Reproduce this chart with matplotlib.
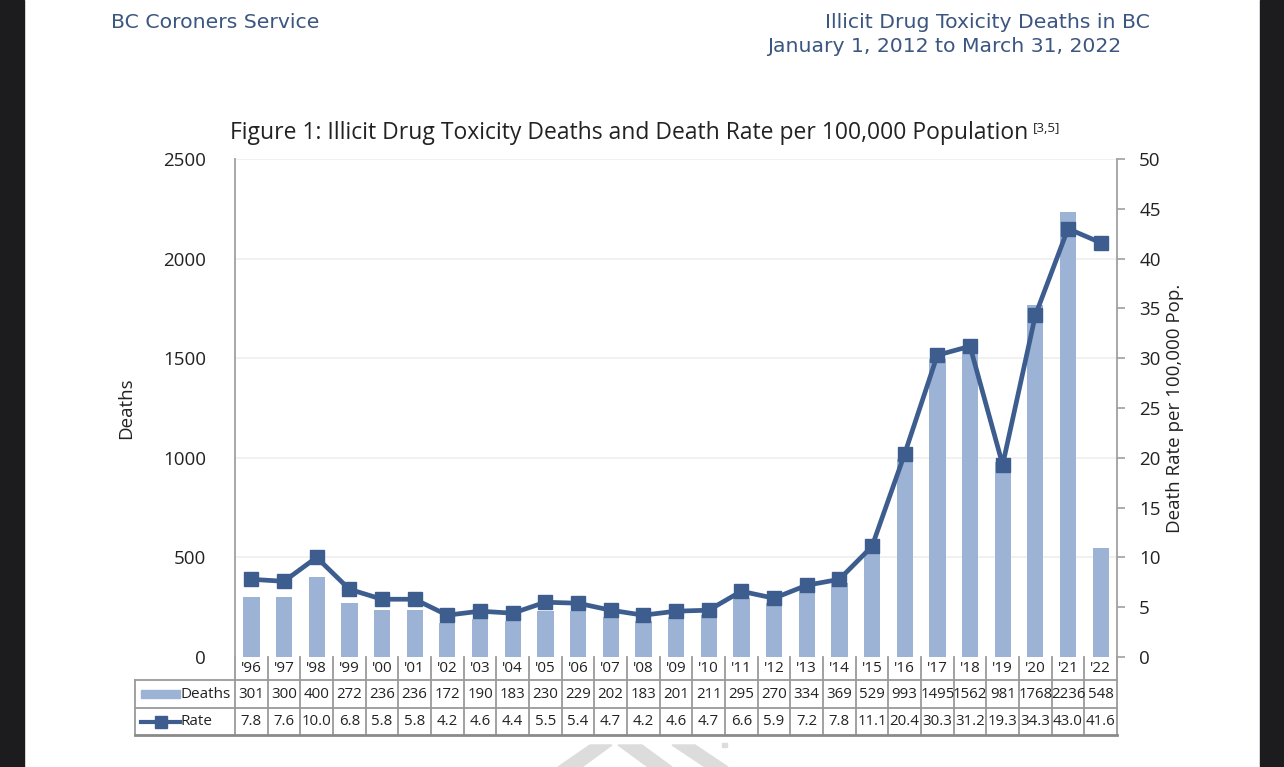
import matplotlib
matplotlib.use("Agg")
import matplotlib.pyplot as plt
from matplotlib.lines import Line2D
from matplotlib.patches import Rectangle, Polygon
import matplotlib.transforms as mtransforms

years = ["'96", "'97", "'98", "'99", "'00", "'01", "'02", "'03", "'04", "'05", "'06",
         "'07", "'08", "'09", "'10", "'11", "'12", "'13", "'14", "'15", "'16", "'17",
         "'18", "'19", "'20", "'21", "'22"]
deaths = [301, 300, 400, 272, 236, 236, 172, 190, 183, 230, 229, 202, 183, 201, 211,
          295, 270, 334, 369, 529, 993, 1495, 1562, 981, 1768, 2236, 548]
rates = [7.8, 7.6, 10.0, 6.8, 5.8, 5.8, 4.2, 4.6, 4.4, 5.5, 5.4, 4.7, 4.2, 4.6, 4.7,
         6.6, 5.9, 7.2, 7.8, 11.1, 20.4, 30.3, 31.2, 19.3, 34.3, 43.0, 41.6]
deaths_ticks = [0, 500, 1000, 1500, 2000, 2500]
rate_ticks = [0, 5, 10, 15, 20, 25, 30, 35, 40, 45, 50]

BAR = "#9cb3d5"
LINE = "#3d5d8f"
HEAD = "#3b5680"
TXT = "#222222"
FONT = ["Open Sans", "DejaVu Sans"]

W, H = 1284, 767
fig = plt.figure(figsize=(W / 100, H / 100), dpi=100)
fig.patch.set_facecolor("white")

# dark side borders
fig.add_artist(Rectangle((0, 0), 24 / W, 1, transform=fig.transFigure, color="#1c1c1e", zorder=0))
fig.add_artist(Rectangle((1260 / W, 0), 24 / W, 1, transform=fig.transFigure, color="#1c1c1e", zorder=0))

# watermark fragments
for pts in [[(558, 767), (582, 767), (612, 745), (590, 745)],
            [(618, 745), (642, 745), (672, 767), (648, 767)],
            [(672, 745), (695, 745), (728, 767), (705, 767)],
            [(722, 743), (727, 743), (727, 747), (722, 747)]]:
    fig.add_artist(Polygon([(x / W, 1 - y / H) for x, y in pts], closed=True,
                           transform=fig.transFigure, color="#dcdcdc", zorder=0))

# header
fig.text(111 / W, 1 - 23 / H, "BC Coroners Service", color=HEAD, fontsize=14.7,
         family="DejaVu Sans", ha="left", va="center")
fig.text(1150 / W, 1 - 23 / H, "Illicit Drug Toxicity Deaths in BC", color=HEAD, fontsize=14.7,
         family="DejaVu Sans", ha="right", va="center")
fig.text(1121 / W, 1 - 47 / H, "January 1, 2012 to March 31, 2022", color=HEAD, fontsize=14.7,
         family="DejaVu Sans", ha="right", va="center")

L, R, T, B = 235, 1117, 159, 657
ax = fig.add_axes([L / W, 1 - B / H, (R - L) / W, (B - T) / H])
ax2 = ax.twinx()

x = list(range(len(years)))
ax.bar(x, deaths, width=0.5, color=BAR, zorder=2)
ax.set_xlim(-0.5, len(years) - 0.5)
ax.set_ylim(0, 2500)
ax.set_yticks(deaths_ticks)
ax.set_yticklabels([str(v) for v in deaths_ticks], family=FONT, fontsize=13.5, color=TXT)
ax.tick_params(axis="y", length=0, pad=21)
ax.set_xticks([])
for v in deaths_ticks[1:]:
    ax.axhline(v, color="#efefef", lw=1.2, zorder=1)
for s in ["top", "right", "bottom"]:
    ax.spines[s].set_visible(False)
ax.spines["left"].set_color("#a0a0a0")
ax.spines["left"].set_linewidth(1.3)
ax.set_ylabel("Deaths", family=FONT, fontsize=13.5, color=TXT, labelpad=20)

ax2.plot(x, rates, color=LINE, lw=3.4, marker="s", markersize=10.5, zorder=3)
ax2.set_ylim(0, 50)
ax2.set_yticks(rate_ticks)
ax2.set_yticklabels([str(v) for v in rate_ticks], family=FONT, fontsize=13.5, color=TXT)
ax2.tick_params(axis="y", length=6, width=1.2, color="#a0a0a0", pad=10)
for s in ["top", "left", "bottom"]:
    ax2.spines[s].set_visible(False)
ax2.spines["right"].set_color("#a0a0a0")
ax2.spines["right"].set_linewidth(1.3)
ax2.set_ylabel("Death Rate per 100,000 Pop.", family=FONT, fontsize=13.5, color=TXT,
               rotation=90, labelpad=4)

# title
fig.text(230 / W, 1 - 133 / H,
         "Figure 1: Illicit Drug Toxicity Deaths and Death Rate per 100,000 Population",
         family=FONT, fontsize=16.5, color=TXT, ha="left", va="center")
fig.text(1033 / W, 1 - 128 / H, "[3,5]", family=FONT, fontsize=9.5, color=TXT,
         ha="left", va="center")

# data table (drawn in blended data/axes coordinates)
tr = mtransforms.blended_transform_factory(ax.transData, ax.transAxes)
tra = ax.transAxes
ph = B - T
def yy(py):
    return -(py - B) / ph
y0, y1, y2, y3 = yy(657), yy(680), yy(708), yy(735)
xl = (135 - L) / (R - L)
n = len(years)
gc = "#9a9a9a"
kw = dict(clip_on=False, lw=1.3, color=gc)
for i in range(n + 1):
    ax.add_line(Line2D([i - 0.5, i - 0.5], [y0, y3], transform=tr, **kw))
ax.add_line(Line2D([xl, xl], [y1, y3], transform=tra, **kw))
ax.add_line(Line2D([xl, 1], [y1, y1], transform=tra, **kw))
ax.add_line(Line2D([xl, 1], [y2, y2], transform=tra, **kw))
ax.add_line(Line2D([xl, 1], [y3, y3], transform=tra, clip_on=False, lw=2.0, color="#8a8a8a"))
for i in range(n):
    ax.text(i, (y0 + y1) / 2, years[i], transform=tr, ha="center", va="center",
            family=FONT, fontsize=11, color=TXT, clip_on=False)
    ax.text(i, (y1 + y2) / 2, str(deaths[i]), transform=tr, ha="center", va="center",
            family=FONT, fontsize=10.8, color=TXT, clip_on=False)
    ax.text(i, (y2 + y3) / 2, f"{rates[i]:.1f}", transform=tr, ha="center", va="center",
            family=FONT, fontsize=10.8, color=TXT, clip_on=False)
kx0 = (141 - L) / (R - L)
kx1 = (180 - L) / (R - L)
ax.add_patch(Rectangle((kx0, (y1 + y2) / 2 - 0.009), kx1 - kx0, 0.018, transform=tra,
                       color=BAR, clip_on=False))
ax.text((181 - L) / (R - L), (y1 + y2) / 2, "Deaths", transform=tra, ha="left", va="center",
        family=FONT, fontsize=11, color=TXT, clip_on=False)
ax.add_line(Line2D([kx0, kx1], [(y2 + y3) / 2] * 2, transform=tra, color=LINE, lw=3,
                   clip_on=False))
ax.add_line(Line2D([(kx0 + kx1) / 2], [(y2 + y3) / 2], transform=tra, color=LINE,
                   marker="s", markersize=8, clip_on=False))
ax.text((181 - L) / (R - L), (y2 + y3) / 2, "Rate", transform=tra, ha="left", va="center",
        family=FONT, fontsize=11, color=TXT, clip_on=False)

fig.savefig("out.png", dpi=100, facecolor="white")
